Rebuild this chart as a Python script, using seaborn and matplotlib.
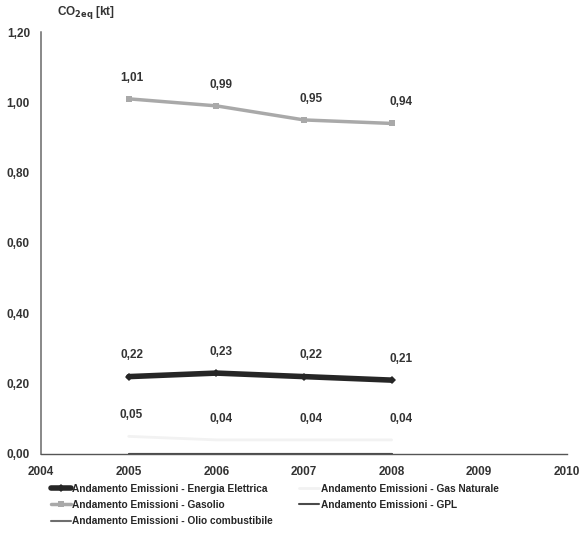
import numpy as np
import pandas as pd
import matplotlib
matplotlib.use("Agg")
import matplotlib.pyplot as plt
import seaborn as sns

# Data
years = [2005, 2006, 2007, 2008]
energia_elettrica = [0.22, 0.23, 0.22, 0.21]
gasolio = [1.01, 0.99, 0.95, 0.94]
gas_naturale = [0.05, 0.04, 0.04, 0.04]
gpl = [0.0, 0.0, 0.0, 0.0]
olio_combustibile = [0.0, 0.0, 0.0, 0.0]

series_names = [
    "Andamento Emissioni - Energia Elettrica",
    "Andamento Emissioni - Gasolio",
    "Andamento Emissioni - Olio combustibile",
    "Andamento Emissioni - Gas Naturale",
    "Andamento Emissioni - GPL",
]
series_values = [energia_elettrica, gasolio, olio_combustibile, gas_naturale, gpl]
labelled = [True, True, False, True, False]

x_ticks = [2004, 2005, 2006, 2007, 2008, 2009, 2010]
y_ticks = [0.0, 0.2, 0.4, 0.6, 0.8, 1.0, 1.2]

styles = {
    series_names[0]: dict(color="#262626", lw=4.0, marker="D", ms=4),
    series_names[1]: dict(color="#a9a9a9", lw=2.5, marker="s", ms=5),
    series_names[2]: dict(color="#6e6e6e", lw=1.5, marker=None, ms=0),
    series_names[3]: dict(color="#f2f2f2", lw=2.0, marker=None, ms=0),
    series_names[4]: dict(color="#4a4a4a", lw=1.5, marker=None, ms=0),
}

sns.set_theme(style="white")
plt.rcParams["font.family"] = ["Liberation Sans", "DejaVu Sans"]
plt.rcParams["font.weight"] = "bold"

fig = plt.figure(figsize=(5.79, 5.57), dpi=100)
ax = fig.add_axes([0.071, 0.185, 0.908, 0.7575])

for name, vals, lab in zip(series_names, series_values, labelled):
    df = pd.DataFrame({"year": years, "value": vals})
    st = styles[name]
    sns.lineplot(
        data=df, x="year", y="value", ax=ax, color=st["color"], lw=st["lw"],
        marker=st["marker"], markersize=st["ms"], markeredgewidth=0,
        label=name, legend=False,
    )
    if lab:
        for i, (xv, yv) in enumerate(zip(years, vals)):
            ax.annotate(
                f"{yv:.2f}".replace(".", ","), (xv, yv), xytext=(2 + 1.5 * i, 11),
                textcoords="offset points", ha="center", va="bottom",
                fontsize=8.5, fontweight="bold", color="#333333",
            )

ax.set_xlim(2004, 2010)
ax.set_ylim(0, 1.2)
ax.set_xticks(x_ticks)
ax.set_xticklabels([str(t) for t in x_ticks])
ax.set_yticks(y_ticks)
ax.set_yticklabels([f"{t:.2f}".replace(".", ",") for t in y_ticks])
ax.set_xlabel("")
ax.set_ylabel("")
ax.tick_params(axis="both", labelsize=8.5, colors="#333333", length=4,
               width=0.8, direction="out", pad=4)
ax.tick_params(axis="x", direction="inout", length=6, pad=6)
for t in ax.get_xticklabels() + ax.get_yticklabels():
    t.set_fontweight("bold")

for side in ["top", "right"]:
    ax.spines[side].set_visible(False)
ax.spines["left"].set_color("#7a7a7a")
ax.spines["left"].set_linestyle((0, (1, 1)))
ax.spines["bottom"].set_color("#555555")
ax.spines["bottom"].set_linewidth(1.0)

fig.text(0.098, 0.962, r"CO$_{\mathbf{2eq}}$ [kt]", fontsize=8.5,
         fontweight="bold", color="#333333", ha="left", va="bottom")

handles, labels = ax.get_legend_handles_labels()
fig.legend(
    handles, labels, loc="upper left", bbox_to_anchor=(0.072, 0.148), ncol=2,
    frameon=False, handlelength=2.0, handletextpad=0.1,
    columnspacing=2.6, labelspacing=0.62, prop={"weight": "bold", "size": 7.3},
)

fig.savefig("out.png", dpi=100)
